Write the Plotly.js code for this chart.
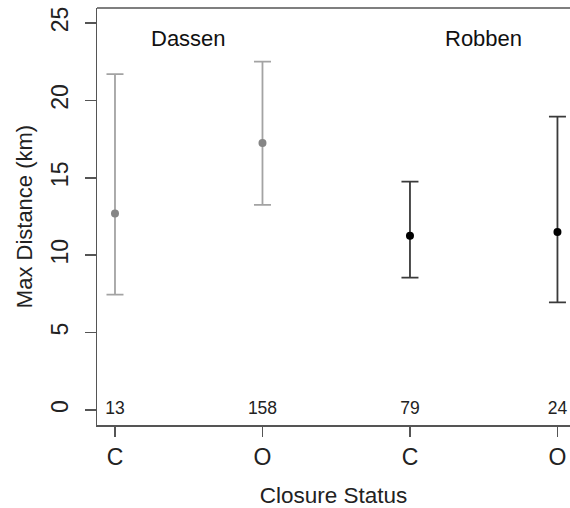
<!DOCTYPE html>
<html>
<head>
<meta charset="utf-8">
<script src="https://cdn.plot.ly/plotly-3.0.1.min.js"></script>
<style>html,body{margin:0;padding:0;overflow:hidden;background:#fff;}</style>
</head>
<body>
<div id="chart" style="width:570px;height:508px;"></div>
<script>
// Data
const tickLabels = ["C", "O", "C", "O"];
const sites = ["Dassen", "Robben"];
const dassenMean = [12.7, 17.25];
const dassenUpper = [21.7, 22.5];
const dassenLower = [7.45, 13.25];
const robbenMean = [11.25, 11.5];
const robbenUpper = [14.75, 18.95];
const robbenLower = [8.55, 6.95];
const counts = ["13", "158", "79", "24"];

const xpos = tickLabels.map((_, i) => i + 1);
const font = "Liberation Sans, Arial, Helvetica, sans-serif";

function groupTrace(xs, mean, upper, lower, markerColor, barColor) {
  return {
    x: xs, y: mean, type: "scatter", mode: "markers",
    marker: {color: markerColor, size: 8},
    error_y: {
      type: "data", symmetric: false,
      array: upper.map((u, i) => u - mean[i]),
      arrayminus: lower.map((l, i) => mean[i] - l),
      color: barColor, thickness: 1.8, width: 8.5
    },
    hoverinfo: "skip", showlegend: false, cliponaxis: false
  };
}

const traces = [
  groupTrace(xpos.slice(0, 2), dassenMean, dassenUpper, dassenLower, "#858585", "#a3a3a3"),
  groupTrace(xpos.slice(2, 4), robbenMean, robbenUpper, robbenLower, "#000000", "#3a3a3a"),
  {
    x: xpos, y: xpos.map(() => 0), type: "scatter", mode: "text",
    text: counts, textposition: "middle center",
    textfont: {family: font, size: 17.5, color: "#222"},
    hoverinfo: "skip", showlegend: false, cliponaxis: false
  }
];

const layout = {
  width: 570, height: 508,
  margin: {l: 97, r: 0, t: 8, b: 83},
  paper_bgcolor: "#fff", plot_bgcolor: "#fff",
  font: {family: font, color: "#222"},
  xaxis: {
    range: [0.878, 4.085],
    tickvals: xpos, ticktext: tickLabels,
    showgrid: false, zeroline: false,
    showline: true, linecolor: "#555", linewidth: 1.5,
    ticks: "outside", ticklen: 10, tickwidth: 1.5, tickcolor: "#555",
    tickfont: {size: 23, color: "#222"},
    ticklabelstandoff: 1,
    title: {text: "Closure Status", font: {size: 22.5, color: "#222"}, standoff: 20}
  },
  yaxis: {
    range: [-0.97, 25.97],
    tickvals: [0, 5, 10, 15, 20, 25],
    tickangle: -90,
    showgrid: false, zeroline: false,
    showline: true, linecolor: "#555", linewidth: 1.5,
    ticks: "outside", ticklen: 11, tickwidth: 1.5, tickcolor: "#555",
    tickfont: {size: 23, color: "#222"},
    ticklabelstandoff: 7,
    title: {text: "Max Distance (km)", font: {size: 22, color: "#222"}, standoff: 8}
  },
  shapes: [{
    type: "line", xref: "paper", yref: "paper", x0: 0, x1: 1, y0: 1, y1: 1,
    line: {color: "#555", width: 1.5}
  }],
  annotations: sites.map((s, i) => ({
    x: 1.5 + 2 * i, y: 24, xref: "x", yref: "y",
    text: s, showarrow: false,
    font: {family: font, size: 22, color: "#111"}
  }))
};

Plotly.newPlot("chart", traces, layout, {displayModeBar: false, staticPlot: true});
</script>
</body>
</html>
